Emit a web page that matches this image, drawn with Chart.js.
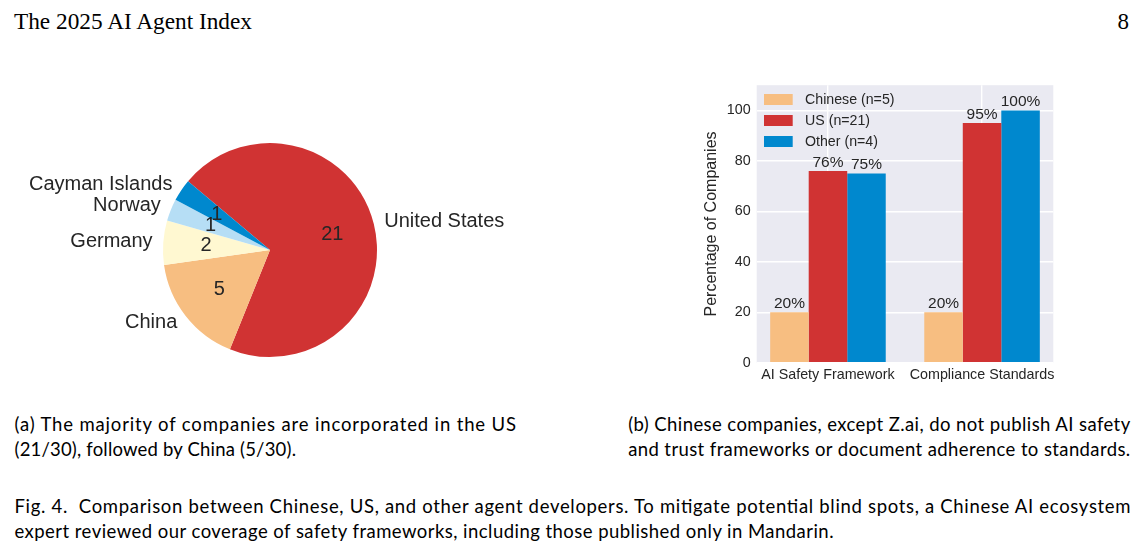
<!DOCTYPE html>
<html><head><meta charset="utf-8">
<script src="https://cdn.jsdelivr.net/npm/chart.js@4.4.0/dist/chart.umd.min.js"></script>
<style>
html,body{margin:0;padding:0;background:#fff;width:1148px;height:547px;overflow:hidden;}
#txt{position:absolute;left:0;top:0;}
#pie{position:absolute;left:0;top:130px;width:540px;height:240px;}
#bar{position:absolute;left:690px;top:76px;width:380px;height:320px;}
.cap{font-family:Lato,'Open Sans',sans-serif;font-size:18.5px;fill:#000;white-space:pre;}
.hd{font-family:'Liberation Serif',serif;font-size:23px;fill:#000;}
</style></head><body>
<svg id="txt" width="1148" height="547" xmlns="http://www.w3.org/2000/svg">
  <text class="hd" x="14" y="29" textLength="238" lengthAdjust="spacingAndGlyphs">The 2025 AI Agent Index</text>
  <text class="hd" x="1129" y="29" text-anchor="end">8</text>
  <text class="cap" x="14.5" y="430.7" textLength="501.5" lengthAdjust="spacing">(a) The majority of companies are incorporated in the US</text>
  <text class="cap" x="14.5" y="455.7" textLength="281.5" lengthAdjust="spacing">(21/30), followed by China (5/30).</text>
  <text class="cap" x="628.2" y="430.7" textLength="502" lengthAdjust="spacing">(b) Chinese companies, except Z.ai, do not publish AI safety</text>
  <text class="cap" x="628.2" y="455.7" textLength="502" lengthAdjust="spacing">and trust frameworks or document adherence to standards.</text>
  <text class="cap" x="14.5" y="513.3" textLength="1116" lengthAdjust="spacing">Fig. 4.  Comparison between Chinese, US, and other agent developers. To mitigate potential blind spots, a Chinese AI ecosystem</text>
  <text class="cap" x="14.5" y="538.3" textLength="819" lengthAdjust="spacing">expert reviewed our coverage of safety frameworks, including those published only in Mandarin.</text>
</svg>
<canvas id="pie" width="540" height="240"></canvas>
<canvas id="bar" width="380" height="320"></canvas>
<script>
// ---- Pie data ----
const pieLabels = ['United States', 'China', 'Germany', 'Norway', 'Cayman Islands'];
const pieCounts = [21, 5, 2, 1, 1];

// ---- Bar data ----
const barCategories = ['AI Safety Framework', 'Compliance Standards'];
const seriesNames = ['Chinese (n=5)', 'US (n=21)', 'Other (n=4)'];
const chineseVals = [20, 20];
const usVals = [76, 95];
const otherVals = [75, 100];
const yTickVals = [0, 20, 40, 60, 80, 100];

// ---- Styles ----
const pieColors = ['#D03333', '#F7BE81', '#FFF8D1', '#B6DEF5', '#0088CE'];
const barColors = ['#F7BE81', '#D03333', '#0088CE'];
const TXT = '#262626';
const SANS = "'Liberation Sans', Arial, sans-serif";

Chart.defaults.font.family = SANS;
Chart.defaults.color = TXT;

const pieLabelPlugin = {
  id: 'pieLabels',
  afterDatasetsDraw(chart) {
    const ctx = chart.ctx;
    const meta = chart.getDatasetMeta(0);
    ctx.save();
    ctx.font = '20px ' + SANS;
    ctx.fillStyle = TXT;
    ctx.textBaseline = 'middle';
    meta.data.forEach((arc, i) => {
      const p = arc.getProps(['x', 'y', 'startAngle', 'endAngle', 'outerRadius'], true);
      const mid = (p.startAngle + p.endAngle) / 2;
      const c = Math.cos(mid), s = Math.sin(mid);
      ctx.textAlign = c >= 0 ? 'left' : 'right';
      ctx.fillText(chart.data.labels[i], p.x + 1.1 * p.outerRadius * c, p.y + 1.1 * p.outerRadius * s);
      ctx.textAlign = 'center';
      ctx.fillText(String(chart.data.datasets[0].data[i]), p.x + 0.6 * p.outerRadius * c, p.y + 0.6 * p.outerRadius * s);
    });
    ctx.restore();
  }
};

new Chart(document.getElementById('pie'), {
  type: 'pie',
  data: {
    labels: pieLabels,
    datasets: [{ data: pieCounts, backgroundColor: pieColors, borderWidth: 0 }]
  },
  options: {
    responsive: false,
    animation: false,
    rotation: -50,
    layout: { padding: { top: 13, bottom: 13, left: 0, right: 0 } },
    plugins: { legend: { display: false }, tooltip: { enabled: false } }
  },
  plugins: [pieLabelPlugin]
});

const bgPlugin = {
  id: 'bg',
  beforeDraw(chart) {
    const { ctx, chartArea: a } = chart;
    ctx.save();
    ctx.fillStyle = '#EAEAF2';
    ctx.fillRect(a.left, a.top, a.right - a.left, a.bottom - a.top);
    ctx.restore();
  }
};

const barLabelPlugin = {
  id: 'barLabels',
  afterDatasetsDraw(chart) {
    const ctx = chart.ctx;
    ctx.save();
    ctx.font = '15.5px ' + SANS;
    ctx.fillStyle = TXT;
    ctx.textAlign = 'center';
    ctx.textBaseline = 'alphabetic';
    chart.data.datasets.forEach((ds, k) => {
      chart.getDatasetMeta(k).data.forEach((el, i) => {
        ctx.fillText(Math.round(ds.data[i].y) + '%', el.x, el.y - 4);
      });
    });
    // legend inside plot area
    const a = chart.chartArea;
    ctx.font = '14.2px ' + SANS;
    ctx.textAlign = 'left';
    ctx.textBaseline = 'middle';
    chart.data.datasets.forEach((ds, k) => {
      const top = a.top + 8.8 + k * 21;
      ctx.fillStyle = ds.backgroundColor;
      ctx.fillRect(a.left + 7.3, top, 28.7, 11);
      ctx.fillStyle = TXT;
      ctx.fillText(ds.label, a.left + 48.3, top + 5.8);
    });
    ctx.restore();
  }
};

const seriesVals = [chineseVals, usVals, otherVals];
const gridOpts = { color: '#FFFFFF', lineWidth: 1.4, drawTicks: false, offset: false };
const noPad = s => { s.paddingTop = 0; s.paddingBottom = 0; s.paddingLeft = 0; s.paddingRight = 0; };

new Chart(document.getElementById('bar'), {
  type: 'bar',
  data: {
    datasets: seriesNames.map((name, k) => ({
      label: name,
      data: seriesVals[k].map((v, i) => ({ x: i, y: v })),
      backgroundColor: barColors[k],
      borderWidth: 0,
      categoryPercentage: 0.75,
      barPercentage: 1
    }))
  },
  options: {
    responsive: false,
    animation: false,
    layout: { padding: { top: 9.2, right: 16.7, left: 0, bottom: 0 } },
    plugins: { legend: { display: false }, tooltip: { enabled: false } },
    scales: {
      x: {
        type: 'linear',
        min: -0.4625,
        max: 1.4625,
        offset: false,
        grid: gridOpts,
        border: { display: false },
        afterBuildTicks: s => { s.ticks = barCategories.map((c, i) => ({ value: i })); },
        ticks: {
          callback: v => barCategories[v] ?? '',
          color: TXT,
          font: { size: 14.3 },
          padding: 4,
          maxRotation: 0,
          autoSkip: false
        },
        afterFit: s => { s.height = 33.3; noPad(s); }
      },
      y: {
        min: 0,
        max: 110,
        grid: gridOpts,
        border: { display: false },
        afterBuildTicks: s => { s.ticks = yTickVals.map(v => ({ value: v })); },
        ticks: { color: TXT, font: { size: 14.3 }, padding: 6 },
        title: {
          display: true,
          text: 'Percentage of Companies',
          color: TXT,
          font: { size: 16 },
          padding: { top: 12.1, bottom: 0 }
        },
        afterFit: s => { s.width = 66.7; noPad(s); }
      }
    }
  },
  plugins: [bgPlugin, barLabelPlugin]
});
</script>
</body></html>
